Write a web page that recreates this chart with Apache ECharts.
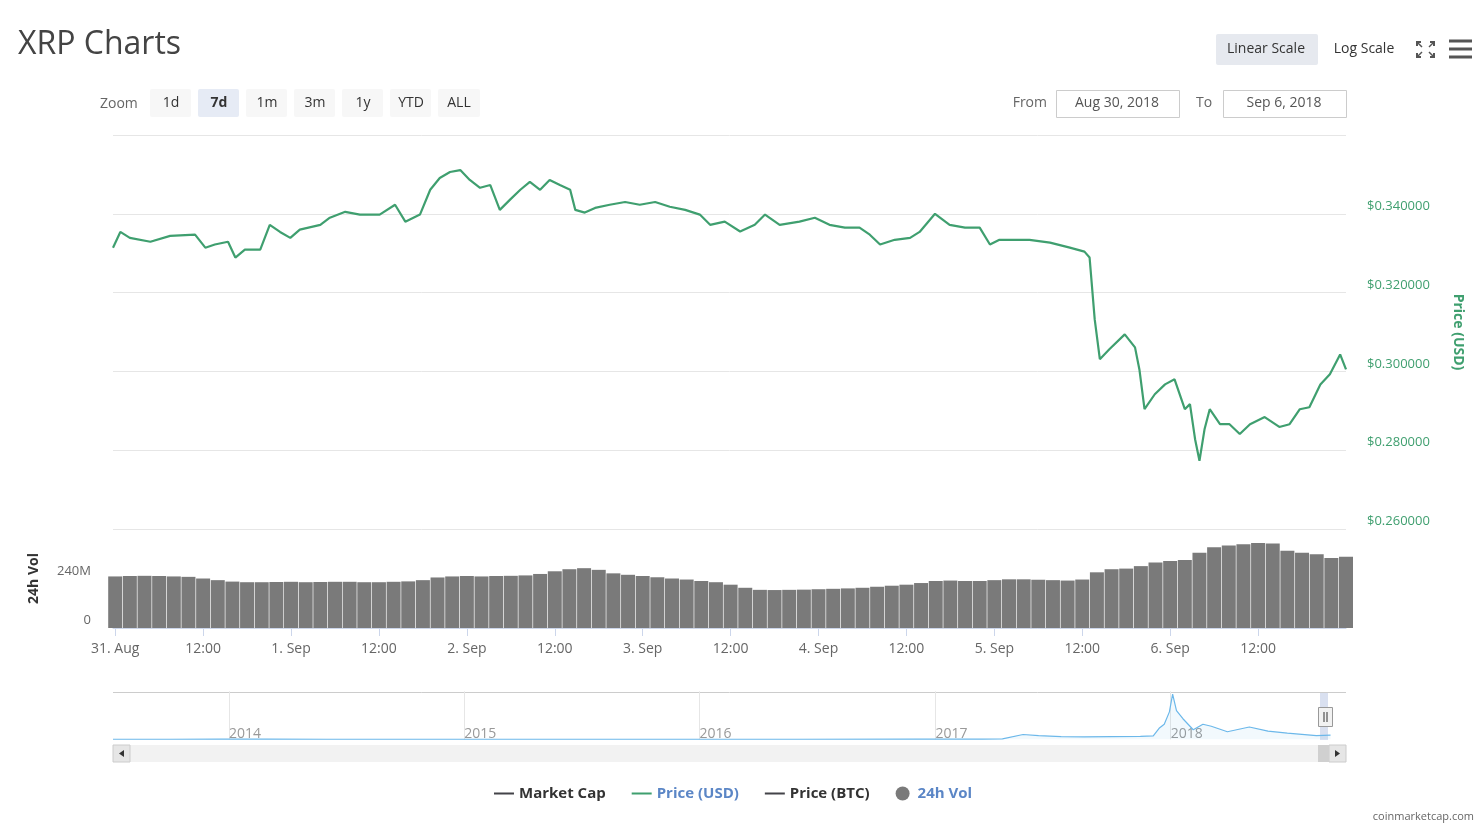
<!DOCTYPE html>
<html><head><meta charset="utf-8">
<script src="https://cdn.jsdelivr.net/npm/echarts@6/dist/echarts.min.js"></script>
<style>html,body{margin:0;padding:0;background:#fff}#c{width:1484px;height:830px}</style>
</head><body><div id="c"></div>
<script>
// hours from 31 Aug 2018 00:00
const priceHours = [-0.3,0.7,2.0,4.8,7.5,10.9,12.3,13.6,15.4,16.4,17.7,19.8,21.1,22.5,23.9,25.2,28.0,29.3,31.4,33.4,36.1,38.2,39.6,41.6,43.0,44.3,45.7,47.1,48.4,49.8,51.2,52.5,53.9,55.3,56.6,58.0,59.3,60.7,62.1,62.8,64.1,65.5,67.5,69.6,71.6,73.7,75.7,77.8,79.8,81.2,83.2,85.3,87.3,88.7,90.7,93.4,95.5,97.5,99.6,101.6,103.0,104.4,106.4,108.5,109.8,111.9,113.9,116.0,118.0,119.4,120.7,122.8,124.8,127.6,130.3,132.3,133.0,133.7,134.4,135.7,137.8,139.2,139.8,140.5,141.9,143.3,144.6,146.0,146.7,147.4,148.0,148.7,149.4,150.8,152.1,153.5,154.9,156.9,158.9,160.3,161.7,163.0,164.5,165.8,167.2,168.0];
const priceUSD = [0.3314,0.3354,0.3339,0.3329,0.3344,0.3347,0.3314,0.3322,0.3329,0.3289,0.3309,0.3309,0.3372,0.3354,0.3339,0.3360,0.3372,0.3390,0.3405,0.3398,0.3398,0.3423,0.3380,0.3398,0.3461,0.3491,0.3506,0.3511,0.3486,0.3466,0.3473,0.3410,0.3436,0.3461,0.3481,0.3461,0.3486,0.3473,0.3461,0.3410,0.3403,0.3415,0.3423,0.3430,0.3423,0.3430,0.3418,0.3410,0.3398,0.3372,0.3380,0.3355,0.3372,0.3398,0.3372,0.3380,0.3390,0.3372,0.3365,0.3365,0.3347,0.3322,0.3334,0.3339,0.3354,0.3400,0.3372,0.3365,0.3365,0.3322,0.3334,0.3334,0.3334,0.3327,0.3314,0.3304,0.3289,0.3132,0.3031,0.3056,0.3094,0.3061,0.3005,0.2904,0.2942,0.2967,0.2980,0.2904,0.2917,0.2828,0.2773,0.2854,0.2904,0.2866,0.2866,0.2841,0.2866,0.2884,0.2859,0.2866,0.2904,0.2909,0.2967,0.2993,0.3043,0.3005];
const volHours = [0,2,4,6,8,10,12,14,16,18,20,22,24,26,28,30,32,34,36,38,40,42,44,46,48,50,52,54,56,58,60,62,64,66,68,70,72,74,76,78,80,82,84,86,88,90,92,94,96,98,100,102,104,106,108,110,112,114,116,118,120,122,124,126,128,130,132,134,136,138,140,142,144,146,148,150,152,154,156,158,160,162,164,166,168];
const vol24h = [250,252,253,252,250,248,240,232,225,222,222,223,224,222,223,224,224,222,222,224,226,232,245,250,252,250,252,253,255,262,275,285,290,282,265,258,252,246,240,235,228,222,210,195,185,184,185,186,188,190,192,195,200,205,210,218,228,230,228,228,232,236,236,234,232,230,235,270,285,288,300,318,325,330,365,392,400,406,412,410,375,365,358,340,345]; // millions
const xTickHours = [0,12,24,36,48,60,72,84,96,108,120,132,144,156];
const xTickLabels = ['31. Aug','12:00','1. Sep','12:00','2. Sep','12:00','3. Sep','12:00','4. Sep','12:00','5. Sep','12:00','6. Sep','12:00'];
const navDates = ['2013-07-05','2013-10-01','2013-12-20','2014-03-01','2014-06-01','2014-12-01','2015-06-01','2015-12-01','2016-06-01','2016-12-01','2017-03-15','2017-04-15','2017-05-17','2017-06-10','2017-07-15','2017-08-20','2017-10-01','2017-11-15','2017-12-05','2017-12-14','2017-12-22','2017-12-30','2018-01-04','2018-01-10','2018-01-20','2018-02-05','2018-02-20','2018-03-05','2018-03-30','2018-05-03','2018-06-01','2018-07-01','2018-08-15','2018-09-06'];
const navPrice = [0.005,0.006,0.02,0.01,0.005,0.006,0.006,0.006,0.006,0.007,0.008,0.03,0.35,0.27,0.2,0.18,0.2,0.22,0.25,0.8,1.1,2.0,3.3,2.1,1.5,0.7,1.1,0.95,0.55,0.9,0.6,0.45,0.27,0.30];
const navYears = ['2014-01-01','2015-01-01','2016-01-01','2017-01-01','2018-01-01'];
const zoomButtons = ['1d','7d','1m','3m','1y','YTD','ALL'];

const FONT = '"Open Sans","DejaVu Sans",sans-serif';
const GREEN = '#3f9f6f';
const BLUE = '#5b86c6';
const chart = echarts.init(document.getElementById('c'));
const navYearTs = navYears.map(d=>Date.parse(d));

const graphics = [];
graphics.push({type:'text',left:18,top:29,style:{text:'XRP Charts',font:'500 32px '+FONT,fill:'#444'}});
graphics.push({type:'rect',shape:{x:1216,y:34,width:102,height:31,r:2},style:{fill:'#e6e9ef'}});
graphics.push({type:'text',x:1266,y:49,style:{text:'Linear Scale',font:'14px '+FONT,fill:'#333',align:'center',verticalAlign:'middle'}});
graphics.push({type:'text',x:1364,y:49,style:{text:'Log Scale',font:'14px '+FONT,fill:'#333',align:'center',verticalAlign:'middle'}});
[[1417,42,1,1],[1434,42,-1,1],[1417,57,1,-1],[1434,57,-1,-1]].forEach(p=>{
  graphics.push({type:'polyline',shape:{points:[[p[0],p[1]+4*p[3]],[p[0],p[1]],[p[0]+4*p[2],p[1]]]},style:{stroke:'#555',lineWidth:2,fill:null}});
  graphics.push({type:'line',shape:{x1:p[0],y1:p[1],x2:p[0]+5*p[2],y2:p[1]+5*p[3]},style:{stroke:'#555',lineWidth:1.5}});
});
[41,49,57].forEach(y=>graphics.push({type:'rect',shape:{x:1449,y:y-1.5,width:23,height:3},style:{fill:'#555'}}));
graphics.push({type:'text',x:100,y:104,style:{text:'Zoom',font:'14px '+FONT,fill:'#666',verticalAlign:'middle'}});
const bx=[150,198,246,294,342,390,438];
zoomButtons.forEach((b,i)=>{
  graphics.push({type:'rect',shape:{x:bx[i],y:89,width:i===6?42:41,height:28,r:2},style:{fill:i===1?'#e6ebf5':'#f7f7f7'}});
  graphics.push({type:'text',x:bx[i]+21,y:103,style:{text:b,font:(i===1?'bold ':'')+'14px '+FONT,fill:'#333',align:'center',verticalAlign:'middle'}});
});
graphics.push({type:'text',x:1047,y:103,style:{text:'From',font:'14px '+FONT,fill:'#666',align:'right',verticalAlign:'middle'}});
graphics.push({type:'rect',shape:{x:1056.5,y:90.5,width:123,height:27},style:{fill:'#fff',stroke:'#ccc'}});
graphics.push({type:'text',x:1117,y:103,style:{text:'Aug 30, 2018',font:'14px '+FONT,fill:'#555',align:'center',verticalAlign:'middle'}});
graphics.push({type:'text',x:1204,y:103,style:{text:'To',font:'14px '+FONT,fill:'#666',align:'center',verticalAlign:'middle'}});
graphics.push({type:'rect',shape:{x:1223.5,y:90.5,width:123,height:27},style:{fill:'#fff',stroke:'#ccc'}});
graphics.push({type:'text',x:1284,y:103,style:{text:'Sep 6, 2018',font:'14px '+FONT,fill:'#555',align:'center',verticalAlign:'middle'}});
graphics.push({type:'line',shape:{x1:113,y1:692.5,x2:1346,y2:692.5},style:{stroke:'#ccc'}});
graphics.push({type:'rect',shape:{x:113,y:745,width:1233,height:17},style:{fill:'#f2f2f2'}});
graphics.push({type:'rect',shape:{x:113,y:745,width:17,height:17},style:{fill:'#e6e6e6',stroke:'#ccc'}});
graphics.push({type:'rect',shape:{x:1329,y:745,width:17,height:17},style:{fill:'#e6e6e6',stroke:'#ccc'}});
graphics.push({type:'rect',shape:{x:1318,y:745,width:11,height:17},style:{fill:'#d0d0d0'}});
graphics.push({type:'polygon',shape:{points:[[124,750],[124,757],[119,753.5]]},style:{fill:'#333'}});
graphics.push({type:'polygon',shape:{points:[[1335,750],[1335,757],[1340,753.5]]},style:{fill:'#333'}});
graphics.push({type:'rect',shape:{x:1320,y:693,width:8,height:47},style:{fill:'rgba(102,133,194,0.25)'}});
graphics.push({type:'rect',shape:{x:1318.5,y:707.5,width:14,height:19},style:{fill:'#f2f2f2',stroke:'#999'}});
graphics.push({type:'line',shape:{x1:1324,y1:712,x2:1324,y2:722},style:{stroke:'#333'}});
graphics.push({type:'line',shape:{x1:1327,y1:712,x2:1327,y2:722},style:{stroke:'#333'}});
graphics.push({type:'text',right:10,top:811,style:{text:'coinmarketcap.com',font:'11px '+FONT,fill:'#666'}});

const lineIcon = 'path://M0,0h0.01v0.01h-0.01zM0,6h20v2h-20zM20,14h0.01v0.01h-0.01z';

chart.setOption({
  animation:false,
  textStyle:{fontFamily:FONT},
  graphic:graphics,
  legend:{left:489,top:781,itemWidth:20,itemHeight:14,itemGap:26,selectedMode:false,
    textStyle:{fontSize:15,fontWeight:'bold',fontFamily:FONT},
    data:[
      {name:'Market Cap',icon:lineIcon,textStyle:{color:'#333'}},
      {name:'Price (USD)',icon:lineIcon,textStyle:{color:BLUE}},
      {name:'Price (BTC)',icon:lineIcon,textStyle:{color:'#333'}},
      {name:'24h Vol',icon:'circle',textStyle:{color:BLUE}}
    ]},
  grid:[
    {left:113,right:138,top:135,height:394},
    {left:113,right:138,top:529,height:99},
    {left:113,right:138,top:692,height:48}
  ],
  xAxis:[
    {type:'value',gridIndex:0,min:-0.3,max:168,show:false},
    {type:'value',gridIndex:1,min:-0.3,max:168,
      axisLine:{show:true,lineStyle:{color:'#ccd6eb'}},
      axisTick:{show:true,length:8,lineStyle:{color:'#ccd6eb'},customValues:xTickHours},
      splitLine:{show:false},
      axisLabel:{customValues:xTickHours,color:'#666',fontSize:14,margin:14,
        formatter:v=>{const i=xTickHours.indexOf(Math.round(v));return i>=0?xTickLabels[i]:'';}}},
    {type:'value',gridIndex:2,min:Date.parse('2013-07-05'),max:Date.parse('2018-09-30'),
      axisLine:{show:false},
      axisTick:{show:true,inside:true,length:48,lineStyle:{color:'#e6e6e6'},customValues:navYearTs},
      splitLine:{show:false},
      axisLabel:{inside:true,customValues:navYearTs,color:'#999',fontSize:14,align:'left',margin:-1,
        formatter:v=>String(new Date(v).getUTCFullYear())}}
  ],
  yAxis:[
    {type:'value',gridIndex:0,position:'right',min:0.26,max:0.36,interval:0.02,
      name:'Price (USD)',nameLocation:'middle',nameRotate:-90,nameGap:105,
      nameTextStyle:{color:GREEN,fontWeight:'bold',fontSize:14},
      axisLine:{show:false},axisTick:{show:false},
      splitLine:{lineStyle:{color:'#e6e6e6'}},
      axisLabel:{color:GREEN,fontSize:13,margin:21,verticalAlign:'bottom',padding:[0,0,1,0],
        formatter:v=>v>0.355?'':'$'+v.toFixed(6)}},
    {type:'value',gridIndex:1,position:'left',min:0,max:480,interval:240,
      name:'24h Vol',nameLocation:'middle',nameGap:72,nameRotate:90,
      nameTextStyle:{color:'#333',fontWeight:'bold',fontSize:14},
      axisLine:{show:false},axisTick:{show:false},
      splitLine:{show:false},
      axisLabel:{color:'#666',fontSize:13,margin:22,verticalAlign:'bottom',padding:[0,0,1,0],
        formatter:v=>v>=480?'':(v===0?'0':v+'M')}},
    {type:'value',gridIndex:2,min:-0.05,max:3.45,show:false}
  ],
  series:[
    {name:'Market Cap',type:'line',data:[],color:'#434348'},
    {name:'Price (USD)',type:'line',xAxisIndex:0,yAxisIndex:0,showSymbol:false,color:GREEN,
      lineStyle:{width:2.2,color:GREEN},data:priceHours.map((h,i)=>[h,priceUSD[i]])},
    {name:'Price (BTC)',type:'line',data:[],color:'#434348'},
    {name:'24h Vol',type:'bar',xAxisIndex:1,yAxisIndex:1,barWidth:14,color:'#777',
      itemStyle:{color:'#7a7a7a'},data:volHours.map((h,i)=>[h,vol24h[i]])},
    {name:'nav',type:'line',xAxisIndex:2,yAxisIndex:2,showSymbol:false,
      lineStyle:{width:1.2,color:'#6cb8ea'},areaStyle:{color:'rgba(108,184,234,0.12)'},
      data:navDates.map((d,i)=>[Date.parse(d),navPrice[i]])}
  ]
});
</script></body></html>
